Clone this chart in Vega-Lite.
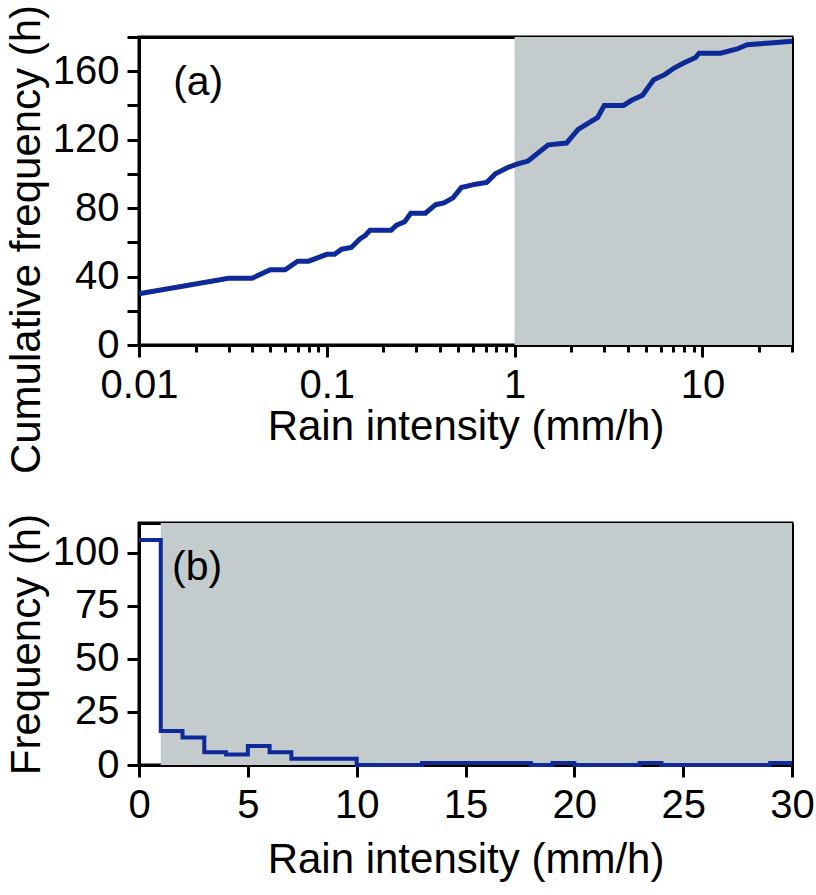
{
  "$schema": "https://vega.github.io/schema/vega-lite/v6.json",
  "background": "white",
  "padding": {"left": 3, "top": 2, "right": 0, "bottom": 5},
  "bounds": "flush",
  "spacing": 178,
  "config": {
    "font": "Liberation Sans",
    "view": {"stroke": "black", "strokeWidth": 3},
    "axis": {
      "domainColor": "black",
      "domainWidth": 3,
      "tickColor": "black",
      "tickWidth": 3,
      "tickSize": 12,
      "labelFont": "Liberation Sans",
      "labelFontSize": 40,
      "labelColor": "black",
      "labelPadding": 8,
      "titleFont": "Liberation Sans",
      "titleFontSize": 42,
      "titleFontWeight": "normal",
      "titleColor": "black",
      "grid": false,
      "zindex": 1
    }
  },
  "datasets": {
    "cumulative": [
      {"intensity": 0.01, "hours": 30},
      {"intensity": 0.03, "hours": 39},
      {"intensity": 0.04, "hours": 39},
      {"intensity": 0.05, "hours": 44},
      {"intensity": 0.06, "hours": 44},
      {"intensity": 0.07, "hours": 49},
      {"intensity": 0.08, "hours": 49},
      {"intensity": 0.1, "hours": 53},
      {"intensity": 0.11, "hours": 53},
      {"intensity": 0.12, "hours": 56},
      {"intensity": 0.135, "hours": 57},
      {"intensity": 0.15, "hours": 62},
      {"intensity": 0.16, "hours": 64},
      {"intensity": 0.17, "hours": 67},
      {"intensity": 0.22, "hours": 67},
      {"intensity": 0.235, "hours": 70},
      {"intensity": 0.26, "hours": 72},
      {"intensity": 0.28, "hours": 77},
      {"intensity": 0.335, "hours": 77},
      {"intensity": 0.38, "hours": 82},
      {"intensity": 0.42, "hours": 83},
      {"intensity": 0.47, "hours": 86},
      {"intensity": 0.52, "hours": 92},
      {"intensity": 0.62, "hours": 94},
      {"intensity": 0.71, "hours": 95},
      {"intensity": 0.79, "hours": 100},
      {"intensity": 0.93, "hours": 104},
      {"intensity": 1.05, "hours": 106},
      {"intensity": 1.18, "hours": 107.5},
      {"intensity": 1.51, "hours": 117},
      {"intensity": 1.89, "hours": 118},
      {"intensity": 2.18, "hours": 126},
      {"intensity": 2.77, "hours": 133},
      {"intensity": 3.0, "hours": 140},
      {"intensity": 3.8, "hours": 140},
      {"intensity": 4.2, "hours": 143},
      {"intensity": 4.8, "hours": 146},
      {"intensity": 5.5, "hours": 155},
      {"intensity": 6.3, "hours": 158},
      {"intensity": 7.1, "hours": 162},
      {"intensity": 8.0, "hours": 165},
      {"intensity": 9.2, "hours": 168},
      {"intensity": 9.6, "hours": 170.5},
      {"intensity": 12.5, "hours": 170.5},
      {"intensity": 15.3, "hours": 173},
      {"intensity": 17.3, "hours": 175.5},
      {"intensity": 23, "hours": 176.5},
      {"intensity": 30, "hours": 177.5}
    ],
    "histogram": [
      {"bin_start": 0, "hours": 106},
      {"bin_start": 1, "hours": 16},
      {"bin_start": 2, "hours": 13},
      {"bin_start": 3, "hours": 6},
      {"bin_start": 4, "hours": 5},
      {"bin_start": 5, "hours": 9},
      {"bin_start": 6, "hours": 6},
      {"bin_start": 7, "hours": 3},
      {"bin_start": 8, "hours": 3},
      {"bin_start": 9, "hours": 3},
      {"bin_start": 10, "hours": 0},
      {"bin_start": 11, "hours": 0},
      {"bin_start": 12, "hours": 0},
      {"bin_start": 13, "hours": 1},
      {"bin_start": 14, "hours": 1},
      {"bin_start": 15, "hours": 1},
      {"bin_start": 16, "hours": 1},
      {"bin_start": 17, "hours": 1},
      {"bin_start": 18, "hours": 0},
      {"bin_start": 19, "hours": 1},
      {"bin_start": 20, "hours": 0},
      {"bin_start": 21, "hours": 0},
      {"bin_start": 22, "hours": 0},
      {"bin_start": 23, "hours": 1},
      {"bin_start": 24, "hours": 0},
      {"bin_start": 25, "hours": 0},
      {"bin_start": 26, "hours": 0},
      {"bin_start": 27, "hours": 0},
      {"bin_start": 28, "hours": 0},
      {"bin_start": 29, "hours": 1},
      {"bin_start": 30, "hours": 1}
    ]
  },
  "vconcat": [
    {
      "width": 653,
      "height": 308,
      "layer": [
        {
          "data": {"values": [{"from": 1, "to": 30}]},
          "mark": {"type": "rect", "color": "#c3cbcc"},
          "encoding": {
            "x": {
              "field": "from",
              "type": "quantitative",
              "scale": {"type": "log", "domain": [0.01, 30], "nice": false},
              "axis": {
                "orient": "bottom",
                "title": "Rain intensity (mm/h)",
                "titlePadding": 1,
                "values": [0.01, 0.02, 0.03, 0.04, 0.05, 0.06, 0.07, 0.08, 0.09, 0.1, 0.2, 0.3, 0.4, 0.5, 0.6, 0.7, 0.8, 0.9, 1, 2, 3, 4, 5, 6, 7, 8, 9, 10, 20, 30],
                "format": "~g",
                "labelOverlap": false,
                "labelFlush": false,
                "labelExpr": "abs(log(datum.value)/LN10 - round(log(datum.value)/LN10)) < 0.001 ? datum.label : ''",
                "tickSize": {
                  "condition": {"test": "abs(log(datum.value)/LN10 - round(log(datum.value)/LN10)) < 0.001", "value": 12},
                  "value": 7
                }
              }
            },
            "x2": {"field": "to"}
          }
        },
        {
          "data": {"name": "cumulative"},
          "mark": {"type": "line", "color": "#0d2a98", "strokeWidth": 5, "zindex": 2},
          "encoding": {
            "x": {"field": "intensity", "type": "quantitative", "axis": null},
            "y": {
              "field": "hours",
              "type": "quantitative",
              "scale": {"domain": [0, 180], "nice": false},
              "axis": {
                "orient": "left",
                "title": "Cumulative frequency (h)",
                "values": [0, 20, 40, 60, 80, 100, 120, 140, 160, 180],
                "labelExpr": "datum.value % 40 === 0 ? datum.label : ''",
                "labelOverlap": false,
                "titleY": 202
              }
            }
          }
        },
        {
          "data": {"values": [{"intensity": 0.0152, "hours": 146, "panel": "(a)"}]},
          "mark": {"type": "text", "fontSize": 41, "align": "left", "baseline": "alphabetic", "color": "black", "zindex": 2},
          "encoding": {
            "x": {
              "field": "intensity",
              "type": "quantitative",
              "axis": {"orient": "top", "title": null, "labels": false, "ticks": false, "domain": true}
            },
            "y": {
              "field": "hours",
              "type": "quantitative",
              "axis": {"orient": "right", "title": null, "labels": false, "ticks": false, "domain": true}
            },
            "text": {"field": "panel"}
          }
        }
      ]
    },
    {
      "width": 653,
      "height": 242,
      "layer": [
        {
          "data": {"values": [{"from": 1, "to": 30}]},
          "mark": {"type": "rect", "color": "#c3cbcc"},
          "encoding": {
            "x": {
              "field": "from",
              "type": "quantitative",
              "scale": {"domain": [0, 30], "nice": false},
              "axis": {
                "orient": "bottom",
                "title": "Rain intensity (mm/h)",
                "titlePadding": 14,
                "values": [0, 5, 10, 15, 20, 25, 30],
                "labelFlush": false,
                "labelOverlap": false
              }
            },
            "x2": {"field": "to"}
          }
        },
        {
          "data": {"name": "histogram"},
          "mark": {"type": "line", "color": "#0d2a98", "strokeWidth": 4, "interpolate": "step-after", "zindex": 2},
          "encoding": {
            "x": {"field": "bin_start", "type": "quantitative", "axis": null},
            "y": {
              "field": "hours",
              "type": "quantitative",
              "scale": {"domain": [0, 114], "nice": false},
              "axis": {
                "orient": "left",
                "title": "Frequency (h)",
                "values": [0, 25, 50, 75, 100],
                "labelOverlap": false
              }
            }
          }
        },
        {
          "data": {"values": [{"bin_start": 1.52, "hours": 87.3, "panel": "(b)"}]},
          "mark": {"type": "text", "fontSize": 41, "align": "left", "baseline": "alphabetic", "color": "black", "zindex": 2},
          "encoding": {
            "x": {
              "field": "bin_start",
              "type": "quantitative",
              "axis": {"orient": "top", "title": null, "labels": false, "ticks": false, "domain": true}
            },
            "y": {
              "field": "hours",
              "type": "quantitative",
              "axis": {"orient": "right", "title": null, "labels": false, "ticks": false, "domain": true}
            },
            "text": {"field": "panel"}
          }
        }
      ]
    }
  ]
}
